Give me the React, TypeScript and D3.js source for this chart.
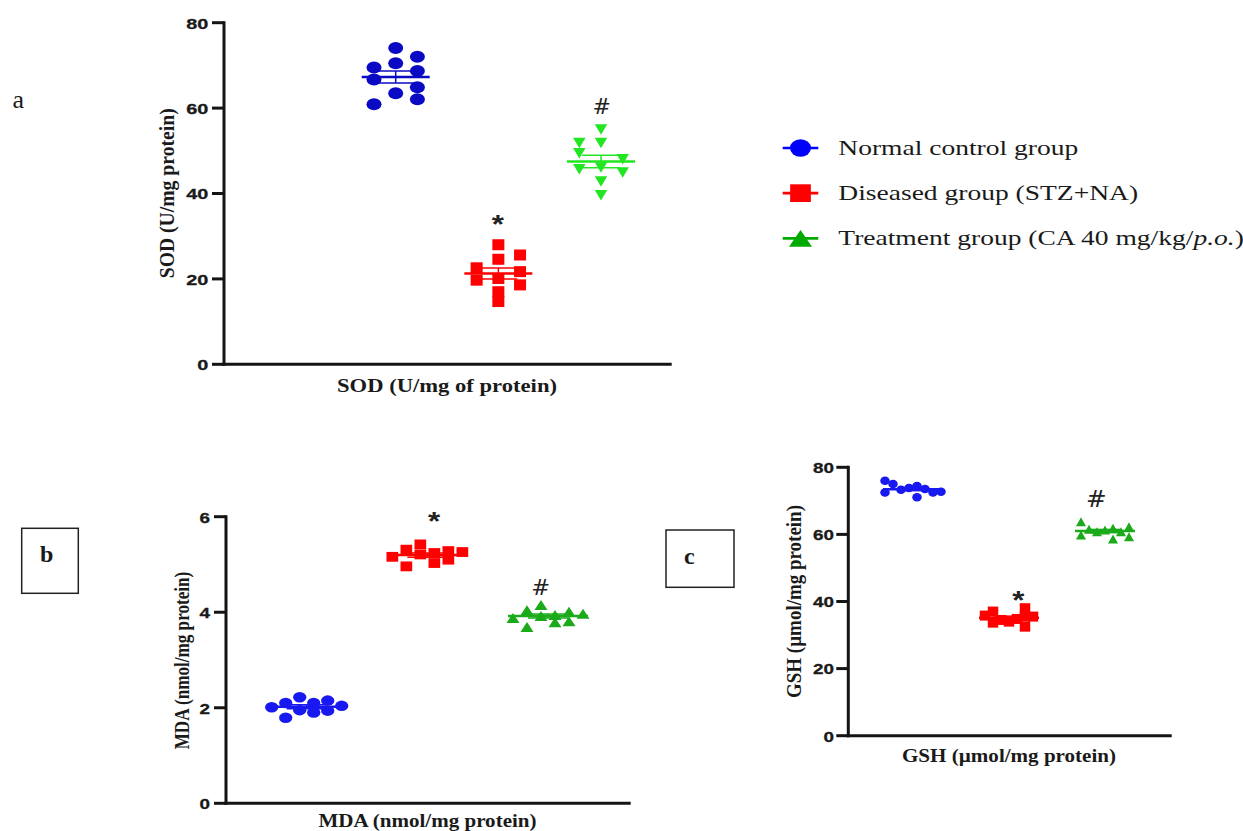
import React from "react";
import * as d3 from "d3";

// ---------- data ----------
const groups = [
  "Normal control group",
  "Diseased group (STZ+NA)",
  "Treatment group (CA 40 mg/kg/p.o.)",
];

// SOD (U/mg protein)
const sodNormal = [69.5, 66.7, 60.9, 74.1, 70.5, 63.5, 72.0, 68.7, 64.9, 62.1];
const sodNormalSlot = [-1, -1, -1, 0, 0, 0, 1, 1, 1, 1];
const sodDiseased = [22.6, 19.7, 28.0, 24.6, 20.1, 17.0, 14.7, 25.6, 21.7, 18.6];
const sodDiseasedSlot = [-1, -1, 0, 0, 0, 0, 0, 1, 1, 1];
const sodTreatment = [51.8, 49.4, 45.7, 55.0, 51.8, 46.1, 42.8, 39.6, 48.0, 44.9];
const sodTreatmentSlot = [-1, -1, -1, 0, 0, 0, 0, 0, 1, 1];

// MDA (nmol/mg protein)
const mdaNormal = [2.01, 2.1, 1.79, 2.22, 1.95, 2.1, 1.9, 2.15, 1.94, 2.04];
const mdaDiseased = [5.16, 5.31, 4.96, 5.42, 5.21, 5.24, 5.03, 5.28, 5.1, 5.26];
const mdaTreatment = [3.88, 4.04, 3.69, 4.15, 3.92, 3.94, 3.79, 4.01, 3.81, 3.97];
const mdaSlot = [-2.5, -1.5, -1.5, -0.5, -0.5, 0.5, 0.5, 1.5, 1.5, 2.5];

// GSH (µmol/mg protein)
const gshNormal = [76.0, 72.5, 75.0, 73.3, 73.8, 74.4, 71.1, 73.5, 72.5, 72.7];
const gshNormalSlot = [-3.5, -3.5, -2.5, -1.5, -0.5, 0.5, 0.5, 1.5, 2.5, 3.5];
const gshDiseased = [35.8, 37.0, 33.7, 34.5, 34.0, 34.8, 38.0, 35.5, 32.5, 35.5];
const gshDiseasedSlot = [-3, -2, -2, -1, 0, 1, 2, 2, 2, 3];
const gshTreatment = [63.8, 59.8, 61.5, 60.8, 61.3, 61.8, 58.6, 60.8, 62.3, 59.3];
const gshTreatmentSlot = [-3, -3, -2, -1, 0, 1, 1, 2, 3, 3];

const sodTicks = [0, 20, 40, 60, 80];
const mdaTicks = [0, 2, 4, 6];
const gshTicks = [0, 20, 40, 60, 80];

const sodTitle = "SOD (U/mg of protein)";
const sodYTitle = "SOD (U/mg protein)";
const mdaTitle = "MDA (nmol/mg protein)";
const gshTitle = "GSH (µmol/mg protein)";

// ---------- layout ----------
type Kind = "circle" | "square" | "triUp" | "triDown";

const SERIF = "'Liberation Serif', 'Times New Roman', serif";
const SANS = "'Liberation Sans', Arial, sans-serif";

const panels = [
  {
    key: "a",
    values: [sodNormal, sodDiseased, sodTreatment],
    slots: [sodNormalSlot, sodDiseasedSlot, sodTreatmentSlot],
    ticks: sodTicks,
    yMax: 80,
    axisX: 224,
    yBottom: 364.3,
    yTop: 22.7,
    xEnd: 671.7,
    centers: [395.7, 601],
    slotW: 21.7,
    tickRight: 208.3,
    tickFont: 15.3,
    colors: ["#0a0ac4", "#ff0000", "#22e622"],
    kinds: ["circle", "square", "triDown"] as Kind[],
    sizes: [[15, 12], [12, 11], [12.5, 10.5]],
    meanHalf: 34,
    semHalf: 19,
    xlabel: { text: sodTitle, x: 447, y: 391.5, size: 19.5, len: 220 },
    ylabel: { text: sodYTitle, x: 173.5, y: 193.3, size: 18.7, len: 170, s: 1.16 },
    star: { dx: -0.6, dy: -26, size: 26 },
    hash: { dx: 0.7, dy: -15.3, size: 21 },
  },
  {
    key: "b",
    values: [mdaNormal, mdaDiseased, mdaTreatment],
    slots: [mdaSlot, mdaSlot, mdaSlot],
    ticks: mdaTicks,
    yMax: 6,
    axisX: 226,
    yBottom: 803.3,
    yTop: 516.7,
    xEnd: 630.7,
    centers: [306.7, 548],
    slotW: 14,
    tickRight: 210,
    tickFont: 14.5,
    colors: ["#1818f0", "#ff0000", "#1aaa1a"],
    kinds: ["circle", "square", "triUp"] as Kind[],
    sizes: [[13.3, 10.5], [11.7, 9.8], [13, 10]],
    meanHalf: 40,
    semHalf: 20,
    xlabel: { text: mdaTitle, x: 427.5, y: 826.5, size: 19, len: 218 },
    ylabel: { text: mdaTitle, x: 188.5, y: 660.5, size: 17, len: 177.6, s: 1.22 },
    star: { dx: 6.6, dy: -29, size: 26 },
    hash: { dx: -7.3, dy: -10, size: 21.5 },
  },
  {
    key: "c",
    values: [gshNormal, gshDiseased, gshTreatment],
    slots: [gshNormalSlot, gshDiseasedSlot, gshTreatmentSlot],
    ticks: gshTicks,
    yMax: 80,
    axisX: 848.3,
    yBottom: 735.7,
    yTop: 467.3,
    xEnd: 1171.7,
    centers: [913, 1105],
    slotW: 8,
    tickRight: 834,
    tickFont: 14.5,
    colors: ["#1818f0", "#ff0000", "#1aaa1a"],
    kinds: ["circle", "square", "triUp"] as Kind[],
    sizes: [[9.5, 8.5], [10.5, 10], [10, 9]],
    meanHalf: 30,
    semHalf: 15,
    xlabel: { text: gshTitle, x: 1009, y: 761.5, size: 18.5, len: 214 },
    ylabel: { text: gshTitle, x: 800.5, y: 601.5, size: 19, len: 193, s: 1.15 },
    star: { dx: 9.3, dy: -13.3, size: 26 },
    hash: { dx: -8.7, dy: -15, size: 23.5 },
  },
];

function Marker({ kind, x, y, w, h, color }: { kind: Kind; x: number; y: number; w: number; h: number; color: string }) {
  if (kind === "circle") return <ellipse cx={x} cy={y} rx={w / 2} ry={h / 2} fill={color} />;
  if (kind === "square") return <rect x={x - w / 2} y={y - h / 2} width={w} height={h} fill={color} />;
  const p =
    kind === "triUp"
      ? `M${x},${y - h / 2}L${x + w / 2},${y + h / 2}L${x - w / 2},${y + h / 2}Z`
      : `M${x - w / 2},${y - h / 2}L${x + w / 2},${y - h / 2}L${x},${y + h / 2}Z`;
  return <path d={p} fill={color} />;
}

function Panel({ p }: { p: (typeof panels)[number] }) {
  const y = d3.scaleLinear().domain([0, p.yMax]).range([p.yBottom, p.yTop]);
  const x = d3.scalePoint<string>().domain(groups).range(p.centers as [number, number]);
  const axisColor = "#141414";
  return (
    <g>
      {/* axes */}
      <line x1={p.axisX} x2={p.axisX} y1={p.yTop - 1.5} y2={p.yBottom + 1.5} stroke={axisColor} strokeWidth={3} />
      <line x1={p.axisX - 1.5} x2={p.xEnd} y1={p.yBottom} y2={p.yBottom} stroke={axisColor} strokeWidth={3} />
      {p.ticks.map((t) => (
        <g key={t}>
          <line x1={p.axisX - 12} x2={p.axisX} y1={y(t)} y2={y(t)} stroke={axisColor} strokeWidth={3} />
          <text
            transform={`translate(${p.tickRight},${y(t) + 5.8}) scale(1.3,1)`}
            textAnchor="end"
            fontFamily={SANS}
            fontWeight="bold"
            fontSize={p.tickFont}
            fill="#1a1a1a"
            stroke="#1a1a1a"
            strokeWidth={0.3}
          >
            {t}
          </text>
        </g>
      ))}
      {/* points */}
      {groups.map((g, gi) =>
        p.values[gi].map((v, i) => (
          <Marker
            key={`${g}-${i}`}
            kind={p.kinds[gi]}
            x={(x(g) as number) + p.slots[gi][i] * p.slotW}
            y={y(v)}
            w={p.sizes[gi][0]}
            h={p.sizes[gi][1]}
            color={p.colors[gi]}
          />
        ))
      )}
      {/* mean ± SEM */}
      {groups.map((g, gi) => {
        const vals = p.values[gi];
        const m = d3.mean(vals) as number;
        const sem = (d3.deviation(vals) as number) / Math.sqrt(vals.length);
        const cx = x(g) as number;
        const c = p.colors[gi];
        return (
          <g key={`m-${g}`}>
            <line x1={cx} x2={cx} y1={y(m - sem)} y2={y(m + sem)} stroke={c} strokeWidth={1.5} />
            <line x1={cx - p.semHalf} x2={cx + p.semHalf} y1={y(m + sem)} y2={y(m + sem)} stroke={c} strokeWidth={1.5} />
            <line x1={cx - p.semHalf} x2={cx + p.semHalf} y1={y(m - sem)} y2={y(m - sem)} stroke={c} strokeWidth={1.5} />
            <line x1={cx - p.meanHalf} x2={cx + p.meanHalf} y1={y(m)} y2={y(m)} stroke={c} strokeWidth={2.5} />
          </g>
        );
      })}
      {/* significance marks */}
      <text
        transform={`translate(${(x(groups[1]) as number) + p.star.dx},${y(d3.max(p.values[1]) as number) + p.star.dy + p.star.size * 0.555}) scale(1.2,1)`}
        textAnchor="middle"
        fontFamily={SANS}
        fontWeight="bold"
        fontSize={p.star.size}
        fill="#222"
      >
        *
      </text>
      <text
        transform={`translate(${(x(groups[2]) as number) + p.hash.dx},${y(d3.max(p.values[2]) as number) + p.hash.dy}) scale(1.05,1)`}
        textAnchor="middle"
        fontFamily="'DejaVu Sans', sans-serif"
        fontSize={p.hash.size}
        fill="#222"
      >
        #
      </text>
      {/* axis titles */}
      <text
        x={p.xlabel.x}
        y={p.xlabel.y}
        textAnchor="middle"
        fontFamily={SERIF}
        fontWeight="bold"
        fontSize={p.xlabel.size}
        textLength={p.xlabel.len}
        lengthAdjust="spacingAndGlyphs"
        fill="#1a1a1a"
      >
        {p.xlabel.text}
      </text>
      <text
        transform={`translate(${p.ylabel.x},${p.ylabel.y}) rotate(-90) scale(1,${p.ylabel.s})`}
        textAnchor="middle"
        fontFamily={SERIF}
        fontWeight="bold"
        fontSize={p.ylabel.size}
        textLength={p.ylabel.len}
        lengthAdjust="spacingAndGlyphs"
        fill="#1a1a1a"
      >
        {p.ylabel.text}
      </text>
    </g>
  );
}

const legendColors = ["#0000ff", "#ff0000", "#00aa00"];
const legendKinds: Kind[] = ["circle", "square", "triUp"];
const legendSizes = [[21, 17.4], [20.7, 17.7], [23, 16.7]];

function Legend() {
  const rows = d3.scalePoint<string>().domain(groups).range([148, 238.3]);
  return (
    <g>
      {groups.map((g, i) => {
        const cy = rows(g) as number;
        const parts = g.split("p.o.");
        return (
          <g key={g}>
            <line x1={782.7} x2={818.3} y1={cy} y2={cy} stroke={legendColors[i]} strokeWidth={2.7} />
            <Marker kind={legendKinds[i]} x={800.5} y={cy} w={legendSizes[i][0]} h={legendSizes[i][1]} color={legendColors[i]} />
            <text
              transform={`translate(838.3,${cy + 7}) scale(1.28,1)`}
              fontFamily={SERIF}
              fontSize={21.5}
              fill="#1a1a1a"
            >
              {parts.length > 1 ? (
                <>
                  {parts[0]}
                  <tspan fontStyle="italic">p.o.</tspan>
                  {parts[1]}
                </>
              ) : (
                g
              )}
            </text>
          </g>
        );
      })}
    </g>
  );
}

export default function App() {
  return (
    <svg
      width={1243}
      height={831}
      viewBox="0 0 1243 831"
      style={{ position: "absolute", left: 0, top: 0, background: "#fff" }}
    >
      <rect width={1243} height={831} fill="#fff" />
      {panels.map((p) => (
        <Panel key={p.key} p={p} />
      ))}
      <Legend />
      {/* panel letters */}
      <text x={12.5} y={107.5} fontFamily={SERIF} fontSize={26} fill="#1a1a1a">
        a
      </text>
      <rect x={21.7} y={528.3} width={56.6} height={65} fill="none" stroke="#222" strokeWidth={1.5} />
      <text x={40} y={561.5} fontFamily={SERIF} fontWeight="bold" fontSize={24} fill="#1a1a1a">
        b
      </text>
      <rect x={666} y={530} width={68} height={57.3} fill="none" stroke="#222" strokeWidth={1.5} />
      <text x={684} y={564} fontFamily={SERIF} fontWeight="bold" fontSize={24} fill="#1a1a1a">
        c
      </text>
    </svg>
  );
}
